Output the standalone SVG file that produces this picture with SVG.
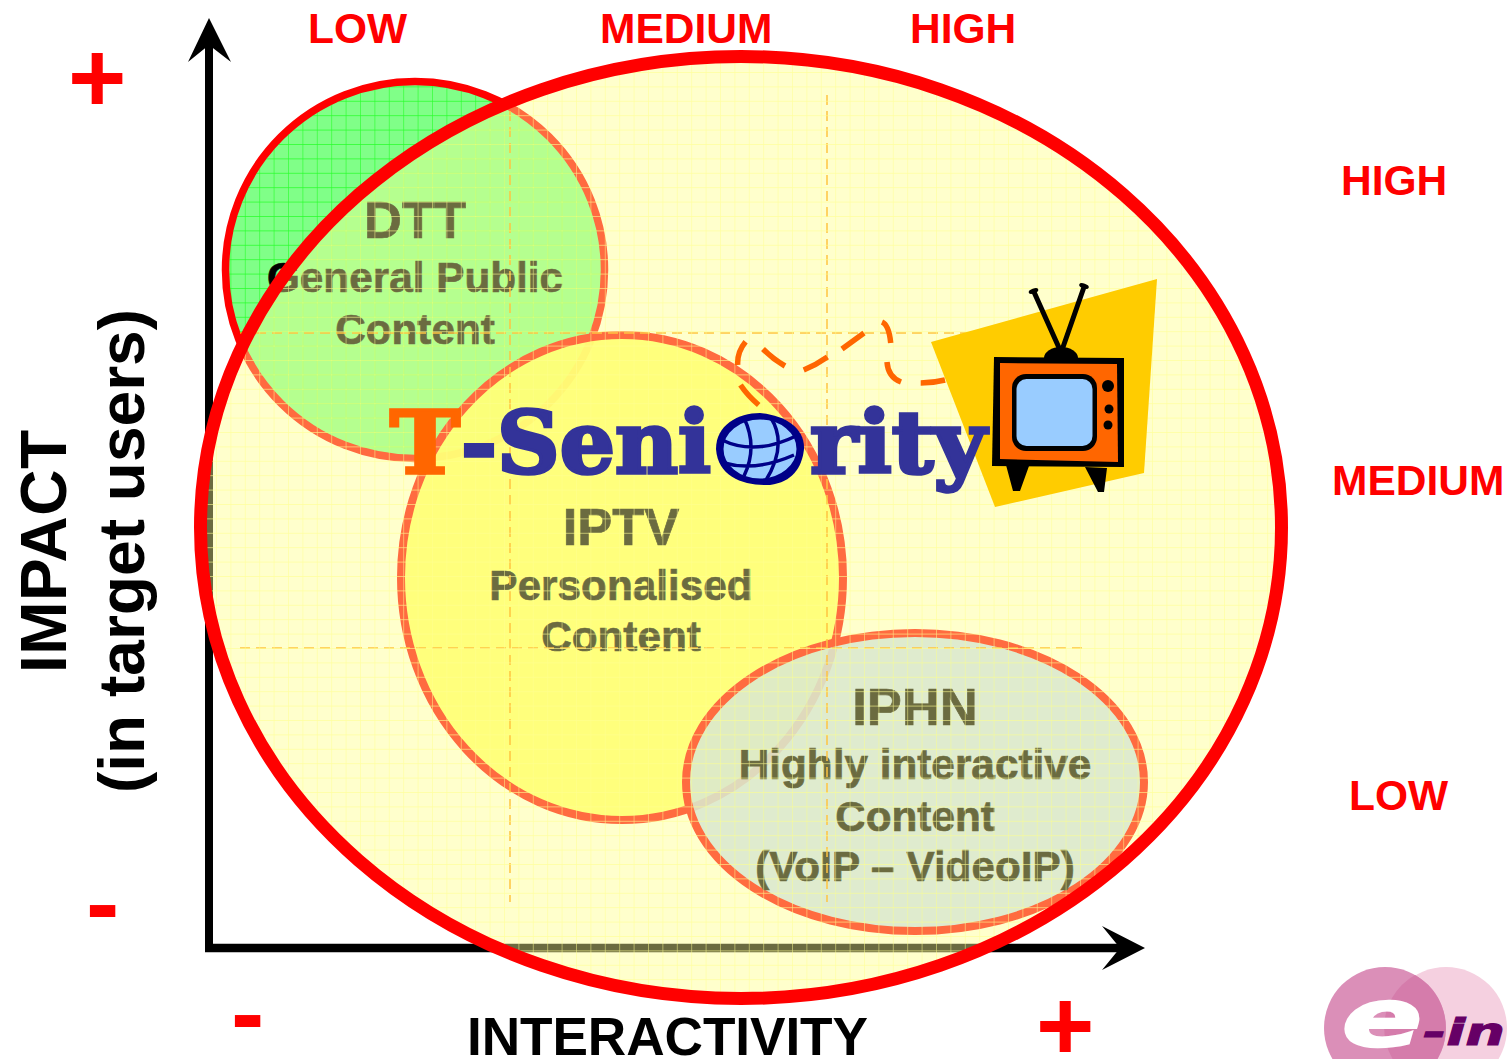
<svg xmlns="http://www.w3.org/2000/svg" width="1507" height="1059" viewBox="0 0 1507 1059">
<style>
.a{font-family:"Liberation Sans",Arial,sans-serif;font-weight:bold}
.r{fill:#f00;font-size:42.5px}
.s{fill:#f00;font-size:100px}
.t{fill:#000;stroke:#000;stroke-width:.7;text-anchor:middle}
.h{font-size:52.500px}.b{font-size:42.300px}
.k{fill:#000;font-size:64px}
.w{font-family:"DejaVu Serif",serif;font-weight:bold;font-size:86px;stroke-width:3.500;stroke-linejoin:miter}
.l{font-family:"DejaVu Sans",sans-serif;font-weight:bold;font-style:italic}
.g{fill:none;stroke:#f90;stroke-width:2;stroke-dasharray:10 6;opacity:.75}
</style>
<defs>
<pattern id="gg" width="14.4" height="14.4" patternUnits="userSpaceOnUse"><path d="M0 0V14.4M0 0H14.4" stroke="#0f0" stroke-width="1.2" opacity=".7" fill="none"/></pattern>
<pattern id="gb" width="14.4" height="14.4" patternUnits="userSpaceOnUse"><path d="M0 0V14.4M0 0H14.4" stroke="#9cd" stroke-width="1" opacity=".4" fill="none"/></pattern>
<pattern id="gy" width="14.4" height="14.4" patternUnits="userSpaceOnUse"><path d="M0 0V14.4M0 0H14.4" stroke="#ffff90" stroke-width="1.2" opacity=".8" fill="none"/></pattern>
</defs>
<rect width="1507" height="1059" fill="#fff"/>
<ellipse id="scope-base" cx="741" cy="527.500" rx="540.500" ry="471" fill="#fffff1"/>
<g id="axes" fill="#000">
<path d="M209 948V45" stroke="#000" stroke-width="8" fill="none"/>
<path d="M205 948H1122" stroke="#000" stroke-width="8.500" fill="none"/>
<path d="M209 18L231 62L209 45L188 62Z"/>
<path d="M1145 948L1102 926L1120 948L1102 970Z"/>
</g>
<g id="dtt">
<ellipse cx="415" cy="270" rx="189.500" ry="188.500" fill="#80ff88" stroke="#f00" stroke-width="7.500"/>
<ellipse cx="415" cy="270" rx="186" ry="185" fill="url(#gg)"/>
<text class="a t h" x="415" y="238">DTT</text>
<text class="a t b" x="415" y="292">General Public</text>
<text class="a t b" x="415" y="344">Content</text>
</g>
<g id="iptv">
<ellipse cx="622" cy="577.500" rx="221" ry="242.500" fill="#ffff60" fill-opacity=".95" stroke="#f00" stroke-width="8"/>
<text class="a t h" x="621" y="545">IPTV</text>
<text class="a t b" x="621" y="600">Personalised</text>
<text class="a t b" x="621" y="651">Content</text>
</g>
<g id="iphn">
<ellipse cx="915" cy="782" rx="229" ry="149" fill="#c0d8f4" fill-opacity=".88" stroke="#f00" stroke-width="8"/>
<ellipse cx="915" cy="782" rx="226" ry="146" fill="url(#gb)"/>
<text class="a t h" x="915" y="725">IPHN</text>
<text class="a t b" x="915" y="779">Highly interactive</text>
<text class="a t b" x="915" y="831">Content</text>
<text class="a t b" x="915" y="881">(VoIP – VideoIP)</text>
</g>
<g id="guides">
<path class="g" d="M240 333H1000M240 648H1082M510 95V902M827 95V902"/>
</g>
<g id="scope">
<ellipse cx="741" cy="527.500" rx="540.500" ry="471" fill="#ffff99" fill-opacity=".42"/>
<ellipse cx="741" cy="527.500" rx="540.500" ry="471" fill="url(#gy)"/>
<ellipse cx="741" cy="527.500" rx="540.500" ry="471" fill="none" stroke="#f00" stroke-width="13"/>
</g>
<g id="connectors">
<path d="M745.600 341.700Q737 352 737.700 365M740.500 385Q748 396 758.700 405M763 349Q773 359 785 366M803.700 370Q816 365 827.400 357M842 349L864 333M882 322Q889 325 890.700 343M887 362Q888 377 901 382M920.700 383Q933 383 945 380M965 379L976 378" fill="none" stroke="#f60" stroke-width="5.500"/>
</g>
<g id="tv">
<path d="M931 342L1157 279L1144 473L995 507Z" fill="#fc0"/>
<path d="M1060 350L1034 292M1062 350L1084 287" stroke="#000" stroke-width="5" fill="none"/>
<ellipse cx="1033.500" cy="291" rx="5" ry="2.500" fill="#000" transform="rotate(-20 1033.500 291)"/>
<ellipse cx="1084" cy="286" rx="5" ry="2.500" fill="#000" transform="rotate(20 1084 286)"/>
<ellipse cx="1061" cy="358" rx="17" ry="11" fill="#000"/>
<path d="M1006 465L1029 466L1020 491L1013 491ZM1085 467L1107 468L1104 492L1098 492Z" fill="#000"/>
<path d="M994 357L1124 358L1124 467L992 466Z" fill="#000"/>
<path d="M1000 363L1117 364L1118 462L1000 459Z" fill="#f60"/>
<rect x="1012" y="374" width="85" height="77" rx="14" fill="#000"/>
<rect x="1016.500" y="379" width="76" height="67" rx="10" fill="#9cf"/>
<circle cx="1108" cy="386" r="6" fill="#000"/>
<circle cx="1109" cy="409" r="4.500" fill="#000"/>
<circle cx="1108" cy="425" r="4.500" fill="#000"/>
</g>
<g id="t-seniority">
<text class="w" x="390" y="473" fill="#f60" stroke="#f60" textLength="70" lengthAdjust="spacingAndGlyphs">T</text>
<text class="w" x="461" y="473" fill="#339" stroke="#339" textLength="250" lengthAdjust="spacingAndGlyphs">-Seni</text>
<text class="w" x="810" y="473" fill="#339" stroke="#339" textLength="176" lengthAdjust="spacingAndGlyphs">rity</text>
<path d="M716 449C716 425 738 413 760 413C785 415 805 428 804 449C802 468 792 482 770 485C745 486 718 478 716 449Z" fill="#008"/>
<ellipse cx="760" cy="449" rx="38" ry="31" fill="#9cf"/>
<path d="M722 440Q755 456 796 436M724 463Q755 472 794 455M744 418Q758 447 744 476M771 418Q788 445 765 482" fill="none" stroke="#008" stroke-width="3.500"/>
<ellipse cx="760" cy="449" rx="38" ry="31" fill="none" stroke="#008" stroke-width="3"/>
</g>
<g id="axis-labels">
<text class="a r" x="308" y="43">LOW</text>
<text class="a r" x="600" y="43">MEDIUM</text>
<text class="a r" x="910" y="43">HIGH</text>
<text class="a r" x="1341" y="195">HIGH</text>
<text class="a r" x="1332" y="495">MEDIUM</text>
<text class="a r" x="1349" y="810">LOW</text>
<text class="a k" transform="translate(66 673) rotate(-90)" textLength="243">IMPACT</text>
<text class="a k" transform="translate(144 793) rotate(-90)" textLength="484">(in target users)</text>
<text class="a" x="467" y="1055" font-size="53.200" textLength="401">INTERACTIVITY</text>
<text class="a s" x="68" y="112">+</text>
<text class="a s" x="1036" y="1060">+</text>
<text class="a s" x="86" y="937">-</text>
<text class="a s" x="231" y="1047">-</text>
</g>
<g id="logo">
<circle cx="1446" cy="1028" r="61" fill="#f5d0e0"/>
<circle cx="1385" cy="1028" r="61" fill="#db8fb8"/>
<path d="M1415 975A61 61 0 0 1 1415 1081A61 61 0 0 1 1415 975Z" fill="#d57cab"/>
<text class="l" x="1342" y="1046" font-size="80" fill="#fff" stroke="#fff" stroke-width="2.500" textLength="80" lengthAdjust="spacingAndGlyphs">e</text>
<text class="l" x="1423" y="1045" font-size="38" fill="#606" stroke="#606" stroke-width="1" textLength="82" lengthAdjust="spacingAndGlyphs">-in</text>
</g>
</svg>
